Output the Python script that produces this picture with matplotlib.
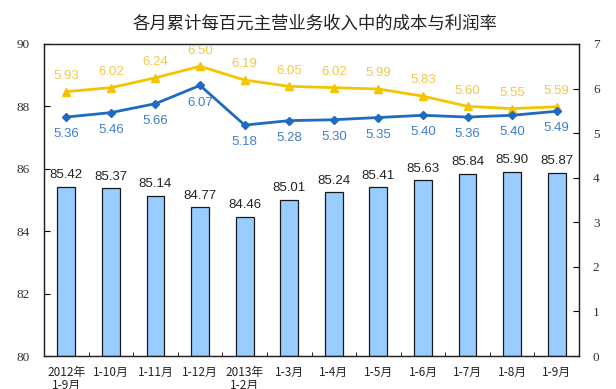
import matplotlib
matplotlib.use("Agg")
import matplotlib.pyplot as plt
import numpy as np

plt.rcParams['font.family'] = ['Noto Sans CJK SC', 'DejaVu Sans']

# data
months = ["2012年\n1-9月", "1-10月", "1-11月", "1-12月", "2013年\n1-2月", "1-3月",
          "1-4月", "1-5月", "1-6月", "1-7月", "1-8月", "1-9月"]
cost = [85.42, 85.37, 85.14, 84.77, 84.46, 85.01, 85.24, 85.41, 85.63, 85.84, 85.90, 85.87]
profit_rate = [5.36, 5.46, 5.66, 6.07, 5.18, 5.28, 5.30, 5.35, 5.40, 5.36, 5.40, 5.49]
upper_rate = [5.93, 6.02, 6.24, 6.50, 6.19, 6.05, 6.02, 5.99, 5.83, 5.60, 5.55, 5.59]

BAR = "#99CCFF"
BLUE = "#1F6BC2"
BLUE_TXT = "#3E7FC9"
YEL = "#F5C400"
YEL_TXT = "#F2C84B"

fig = plt.figure(figsize=(6.16, 3.89), dpi=100)
ax = fig.add_axes([0.0714, 0.0848, 0.8686, 0.8022])
ax2 = ax.twinx()

x = np.arange(len(months))
ax.bar(x, [c - 80 for c in cost], bottom=80, width=0.4, color=BAR,
       edgecolor="#1a1a1a", linewidth=0.9, zorder=2)
for xi, c in zip(x, cost):
    ax.annotate(f"{c:.2f}", (xi, c), xytext=(0, 4), textcoords="offset points",
                ha="center", va="bottom", fontsize=9.5, color="#222222",
                family="Liberation Sans")

ax.set_ylim(80, 90)
ax.set_yticks([80, 82, 84, 86, 88, 90])
ax.set_xlim(-0.5, len(months) - 0.5)
ax.set_xticks(x)
ax.set_xticklabels(months, fontsize=8.5, linespacing=1.05, color="#222222")
ax.set_xticks(x[:-1] + 0.5, minor=True)
ax.tick_params(axis="x", which="major", length=0, pad=7)
ax.tick_params(axis="x", which="minor", direction="in", length=3)
ax.tick_params(axis="y", direction="in", length=4, labelsize=9.5, pad=10)

ax2.plot(x, upper_rate, color=YEL, lw=2, marker="^", ms=6, zorder=3)
ax2.plot(x, profit_rate, color=BLUE, lw=2, marker="D", ms=4.5, zorder=3)
for xi, v in zip(x, upper_rate):
    ax2.annotate(f"{v:.2f}", (xi, v), xytext=(0, 7), textcoords="offset points",
                 ha="center", va="bottom", fontsize=9.5, color=YEL_TXT,
                 family="Liberation Sans")
for xi, v in zip(x, profit_rate):
    ax2.annotate(f"{v:.2f}", (xi, v), xytext=(0, -8), textcoords="offset points",
                 ha="center", va="top", fontsize=9.5, color=BLUE_TXT,
                 family="Liberation Sans")
ax2.set_ylim(0, 7)
ax2.set_yticks(range(8))
ax2.tick_params(axis="y", direction="in", length=4, labelsize=9.5, pad=10)

for a in (ax, ax2):
    for s in a.spines.values():
        s.set_color("#222222")
        s.set_linewidth(0.9)
    for lbl in a.get_yticklabels():
        lbl.set_family("Liberation Serif")
        lbl.set_color("#333333")

fig.text(0.512, 0.94, "各月累计每百元主营业务收入中的成本与利润率", ha="center", va="center",
         fontsize=12.5, color="#222222")

fig.savefig("out.png", dpi=100)
